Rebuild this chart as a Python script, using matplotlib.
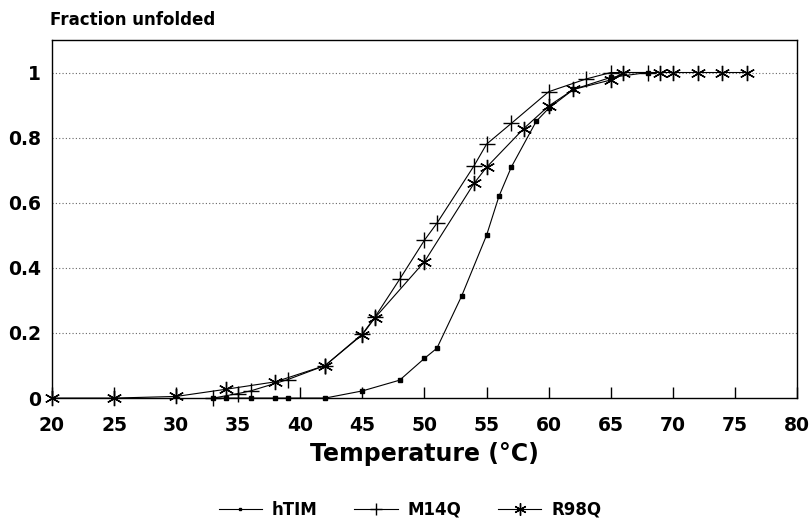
import matplotlib
matplotlib.use("Agg")
import matplotlib.pyplot as plt

plt.rcParams['font.family'] = ['DejaVu Sans']

htim_t = [33, 34, 36, 38, 39, 42, 45, 48, 50, 51, 53, 55, 56, 57, 59, 60, 62, 65, 68]
htim_f = [0, 0, 0, 0, 0, 0, 0.022, 0.055, 0.122, 0.153, 0.314, 0.50, 0.62, 0.71, 0.85, 0.89, 0.948, 0.985, 1.0]

m14q_t = [33, 35, 36, 39, 42, 45, 46, 48, 50, 51, 54, 55, 57, 60, 63, 65, 68]
m14q_f = [0, 0.014, 0.022, 0.057, 0.10, 0.197, 0.248, 0.365, 0.485, 0.537, 0.714, 0.78, 0.844, 0.941, 0.98, 1.0, 1.0]

r98q_t = [20, 25, 30, 34, 38, 42, 45, 46, 50, 54, 55, 58, 60, 62, 65, 66, 69, 70, 72, 74, 76]
r98q_f = [0, 0, 0.005, 0.027, 0.05, 0.10, 0.195, 0.246, 0.419, 0.66, 0.709, 0.828, 0.897, 0.948, 0.977, 1.0, 1.0, 1.0, 1.0, 1.0, 1.0]

x_ticks = [20, 25, 30, 35, 40, 45, 50, 55, 60, 65, 70, 75, 80]
y_ticks = [0, 0.2, 0.4, 0.6, 0.8, 1.0]
y_labels = ["0", "0.2", "0.4", "0.6", "0.8", "1"]

fig = plt.figure(figsize=(8.12, 5.19), dpi=100)
ax = fig.add_axes([0.064, 0.233, 0.9175, 0.69])

ax.plot(htim_t, htim_f, color='black', lw=0.8, marker='s', ms=2.2, label='hTIM', clip_on=False)
ax.plot(m14q_t, m14q_f, color='black', lw=0.8, marker='+', ms=11, mew=1.0, label='M14Q', clip_on=False)
ax.plot(r98q_t, r98q_f, color='black', lw=0.8, marker=(6, 2, 0), ms=11, mew=1.0, label='R98Q', clip_on=False)

ax.set_xlim(20, 80)
ax.set_ylim(0, 1.1)
ax.set_xticks(x_ticks)
ax.set_yticks(y_ticks)
ax.set_yticklabels(y_labels)
for y in y_ticks[1:]:
    ax.axhline(y, color='#666666', lw=0.8, ls=(0, (1, 2)), zorder=0)

ax.tick_params(axis='x', direction='in', length=8, width=1.0, labelsize=13.5, pad=13)
ax.tick_params(axis='y', length=0, labelsize=13.5, pad=8)
for lab in ax.get_xticklabels() + ax.get_yticklabels():
    lab.set_fontweight('bold')
for s in ax.spines.values():
    s.set_linewidth(1.0)

ax.set_xlabel('Temperature (°C)', fontsize=17, fontweight='bold', labelpad=5)
fig.text(0.062, 0.945, 'Fraction unfolded', fontsize=12, fontweight='bold', ha='left', va='bottom')

leg = fig.legend(loc='center', bbox_to_anchor=(0.505, 0.018), ncol=3, frameon=False,
                 prop={'size': 12, 'weight': 'bold'}, handlelength=2.6, handletextpad=0.6,
                 columnspacing=2.2, markerscale=0.8)

fig.savefig('out.png', dpi=100)
